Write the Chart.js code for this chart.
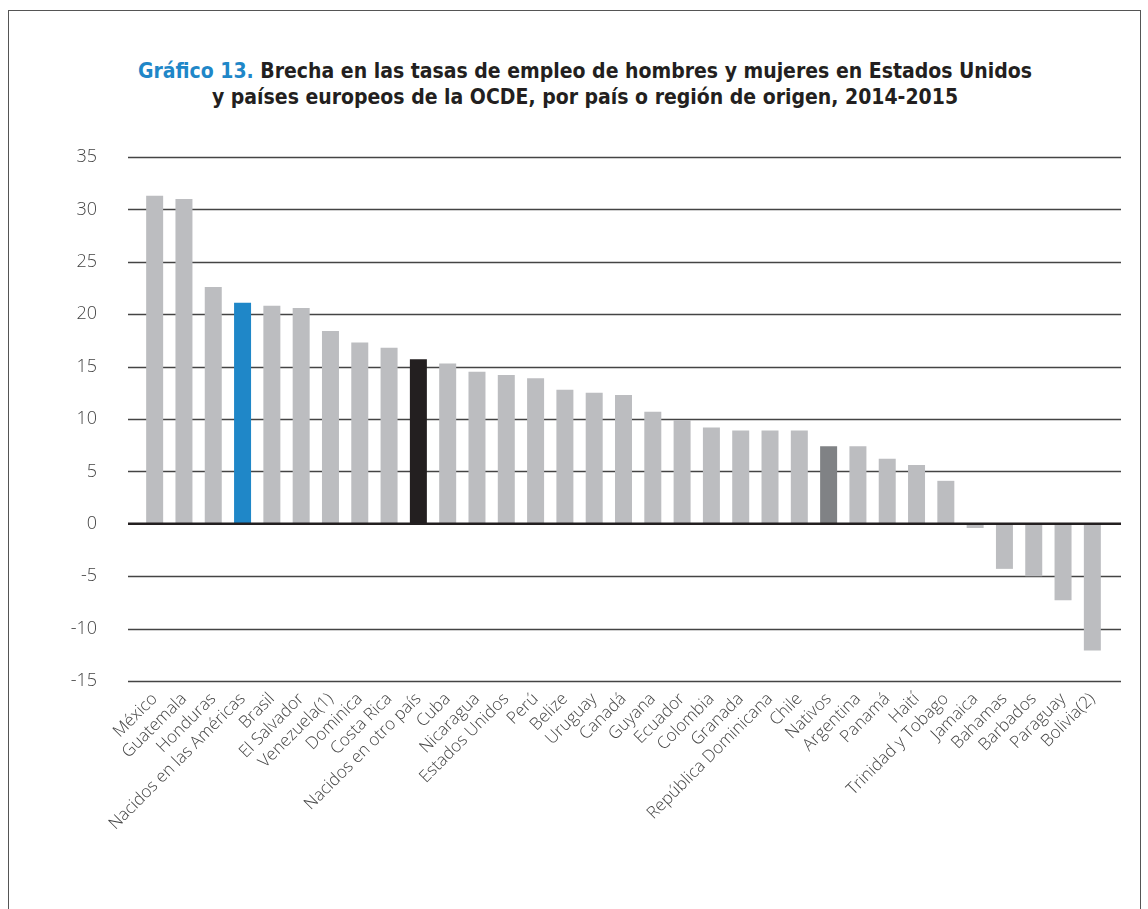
<!DOCTYPE html>
<html><head><meta charset="utf-8">
<script src="https://cdn.jsdelivr.net/npm/chart.js@4"></script>
<style>
html,body{margin:0;padding:0;background:#fff;}
#wrap{position:relative;width:1148px;height:909px;overflow:hidden;}
#frame{position:absolute;left:8px;top:10px;width:1133px;height:930px;border:1.5px solid #555;box-sizing:border-box;}
#title{position:absolute;left:0;top:58px;width:1170px;text-align:center;font-family:"DejaVu Sans Condensed","DejaVu Sans";font-weight:bold;font-size:21px;line-height:26px;color:#231f20;}
#title .hl{color:#1f87c8;}
#c{position:absolute;left:0;top:0;}
</style>
</head><body>
<div id="wrap">
<div id="frame"></div>
<div id="title"><span class="hl">Gráfico 13.</span> Brecha en las tasas de empleo de hombres y mujeres en Estados Unidos<br>y países europeos de la OCDE, por país o región de origen, 2014-2015</div>
<canvas id="c" width="1148" height="909"></canvas>
</div>
<script>
const categories = ["México","Guatemala","Honduras","Nacidos en las Américas","Brasil","El Salvador","Venezuela(1)","Dominica","Costa Rica","Nacidos en otro país","Cuba","Nicaragua","Estados Unidos","Perú","Belize","Uruguay","Canadá","Guyana","Ecuador","Colombia","Granada","República Dominicana","Chile","Nativos","Argentina","Panamá","Haití","Trinidad y Tobago","Jamaica","Bahamas","Barbados","Paraguay","Bolivia(2)"];
const gapValues = [31.3,31.0,22.6,21.1,20.8,20.6,18.4,17.3,16.8,15.7,15.3,14.5,14.2,13.9,12.8,12.5,12.3,10.7,9.9,9.2,8.9,8.9,8.9,7.4,7.4,6.2,5.6,4.1,-0.4,-4.3,-5.0,-7.3,-12.1];
const yTicks = [-15,-10,-5,0,5,10,15,20,25,30,35];

const highlight = {"Nacidos en las Américas":"#1f87c8","Nacidos en otro país":"#231f20","Nativos":"#808285"};
const barColors = categories.map(c => highlight[c] || "#bcbdc0");

const gridPlugin = {
  id:'gridExt',
  beforeDatasetsDraw(chart){
    const {ctx, chartArea:a, scales:{y}} = chart;
    ctx.save();
    ctx.strokeStyle = '#444';
    ctx.lineWidth = 1.4;
    y.ticks.forEach(t => {
      if (t.value === 0) return;
      const py = Math.round(y.getPixelForValue(t.value)) + 0.5;
      ctx.beginPath(); ctx.moveTo(a.left-12, py); ctx.lineTo(a.right+14, py); ctx.stroke();
    });
    ctx.restore();
  },
  afterDatasetsDraw(chart){
    const {ctx, chartArea:a, scales:{y}} = chart;
    ctx.save();
    ctx.strokeStyle = '#231f20';
    ctx.lineWidth = 2.5;
    const py = y.getPixelForValue(0);
    ctx.beginPath(); ctx.moveTo(a.left-12, py); ctx.lineTo(a.right+14, py); ctx.stroke();
    ctx.restore();
  }
};

new Chart(document.getElementById('c'), {
  type:'bar',
  data:{ labels:categories, datasets:[{ data:gapValues, backgroundColor:barColors, borderWidth:0, categoryPercentage:1, barPercentage:0.58 }]},
  options:{
    responsive:false, animation:false, devicePixelRatio:1,
    layout:{ padding:{ top:157, right:41, bottom:0, left:0 } },
    plugins:{ legend:{display:false}, tooltip:{enabled:false}, title:{display:false} },
    scales:{
      x:{
        grid:{display:false, drawTicks:false}, border:{display:false},
        ticks:{ autoSkip:false, maxRotation:45, minRotation:45, padding:8, color:'#444', font:{family:'"Open Sans"', size:17, weight:300} },
        afterFit(s){ s.height = 228; }
      },
      y:{
        min:-15, max:35,
        grid:{display:false, drawTicks:false}, border:{display:false},
        afterBuildTicks(s){ s.ticks = yTicks.map(v => ({value:v})); },
        ticks:{ padding:43, color:'#444', font:{family:'"Open Sans"', size:18, weight:300} },
        afterFit(s){ s.width = 140; }
      }
    }
  },
  plugins:[gridPlugin]
});
</script>
</body></html>
